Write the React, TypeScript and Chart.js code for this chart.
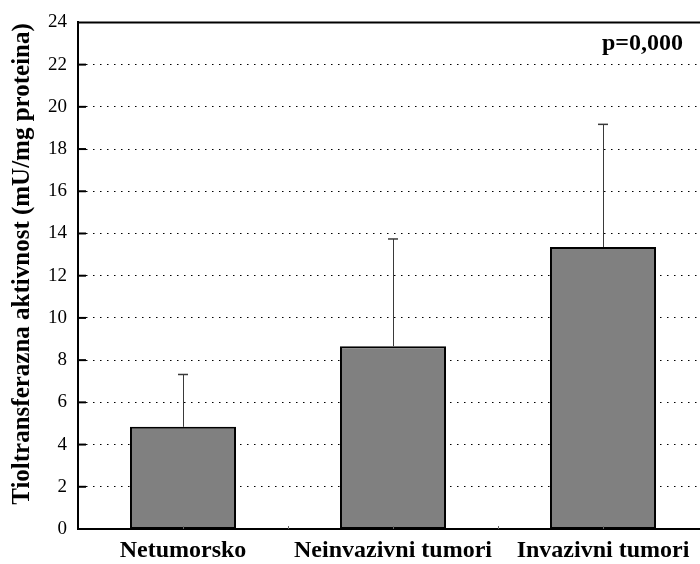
import React, { useEffect, useRef } from "react";
import { Chart, registerables } from "chart.js";

Chart.register(...registerables);

const categories = ["Netumorsko", "Neinvazivni tumori", "Invazivni tumori"];
const means = [4.84, 8.66, 13.36];
const sdUpper = [2.48, 5.08, 5.81];
const yTicks = [0, 2, 4, 6, 8, 10, 12, 14, 16, 18, 20, 22, 24];
const yTitle = "Tioltransferazna aktivnost (mU/mg proteina)";
const pText = "p=0,000";

const FONT = "'Liberation Serif', 'Times New Roman', serif";

const decorPlugin = {
  id: "decor",
  afterDatasetsDraw(chart: any) {
    const ctx = chart.ctx;
    const { left, right, top, bottom } = chart.chartArea;
    const y = chart.scales.y;
    const x = chart.scales.x;
    ctx.save();
    // error bars
    const meta = chart.getDatasetMeta(0);
    meta.data.forEach((bar: any, i: number) => {
      const cx = bar.x;
      const y0 = y.getPixelForValue(means[i]);
      const y1 = y.getPixelForValue(means[i] + sdUpper[i]);
      ctx.strokeStyle = "#3a3a3a";
      ctx.lineWidth = 1;
      ctx.beginPath();
      ctx.moveTo(Math.round(cx) + 0.5, y0);
      ctx.lineTo(Math.round(cx) + 0.5, y1);
      ctx.stroke();
      ctx.lineWidth = 1.5;
      ctx.beginPath();
      ctx.moveTo(cx - 5, y1);
      ctx.lineTo(cx + 5, y1);
      ctx.stroke();
    });
    // top border
    ctx.strokeStyle = "#000";
    ctx.lineWidth = 2;
    ctx.beginPath();
    ctx.moveTo(left - 1, top);
    ctx.lineTo(right, top);
    ctx.stroke();
    // inward y ticks
    yTicks.forEach((v) => {
      if (v === 0 || v === 24) return;
      const py = y.getPixelForValue(v);
      ctx.beginPath();
      ctx.moveTo(left, py);
      ctx.lineTo(left + 8, py);
      ctx.stroke();
    });
    // small x ticks
    ctx.strokeStyle = "#666";
    ctx.lineWidth = 1;
    for (let i = 0; i < categories.length; i++) {
      const c = x.getPixelForValue(i);
      const half = (x.getPixelForValue(1) - x.getPixelForValue(0)) / 2;
      [c, c + half].forEach((px) => {
        ctx.beginPath();
        ctx.moveTo(Math.round(px) + 0.5, bottom);
        ctx.lineTo(Math.round(px) + 0.5, bottom - 3);
        ctx.stroke();
      });
    }
    // p value
    ctx.fillStyle = "#000";
    ctx.font = "bold 24px " + FONT;
    ctx.textAlign = "right";
    ctx.textBaseline = "middle";
    ctx.fillText(pText, 683, 44);
    // y axis title
    ctx.save();
    ctx.translate(23, 264);
    ctx.rotate(-Math.PI / 2);
    ctx.font = "bold 25px " + FONT;
    ctx.textAlign = "center";
    ctx.textBaseline = "middle";
    ctx.fillText(yTitle, 0, 0);
    ctx.restore();
    ctx.restore();
  },
};

export default function App() {
  const ref = useRef<HTMLCanvasElement | null>(null);
  useEffect(() => {
    if (!ref.current) return;
    Chart.defaults.font.family = FONT;
    const chart = new Chart(ref.current, {
      type: "bar",
      data: {
        labels: categories,
        datasets: [
          {
            data: means,
            backgroundColor: "#808080",
            borderColor: "#000",
            borderWidth: 2,
            borderSkipped: false,
            categoryPercentage: 1,
            barPercentage: 0.505,
          },
        ],
      },
      options: {
        animation: false,
        responsive: false,
        maintainAspectRatio: false,
        layout: { padding: { left: 0, right: 12, top: 22, bottom: 0 } },
        plugins: { legend: { display: false }, tooltip: { enabled: false } },
        scales: {
          x: {
            grid: { display: false, drawTicks: false },
            border: { display: true, color: "#000", width: 2 },
            ticks: {
              padding: 7,
              color: "#000",
              font: { size: 24, weight: "bold", family: FONT },
              maxRotation: 0,
              autoSkip: false,
            },
            afterFit: (s: any) => {
              s.height = 35;
            },
          },
          y: {
            min: 0,
            max: 24,
            afterBuildTicks: (s: any) => {
              s.ticks = yTicks.map((v) => ({ value: v }));
            },
            grid: {
              drawTicks: false,
              color: (c: any) =>
                c.tick && (c.tick.value === 0 || c.tick.value === 24) ? "rgba(0,0,0,0)" : "#000",
              lineWidth: 1,
            },
            border: { display: true, color: "#000", width: 2, dash: [1.5, 5.5] },
            ticks: {
              padding: 11,
              color: "#000",
              font: { size: 19, family: FONT },
            },
            title: { display: false },
            afterFit: (s: any) => {
              s.width = 78;
            },
          },
        },
      },
      plugins: [decorPlugin],
    });
    return () => chart.destroy();
  }, []);
  return (
    <div style={{ position: "fixed", left: 0, top: 0, width: 700, height: 564, overflow: "hidden", background: "#fff" }}>
      <canvas ref={ref} width={720} height={564} style={{ display: "block" }} />
    </div>
  );
}
